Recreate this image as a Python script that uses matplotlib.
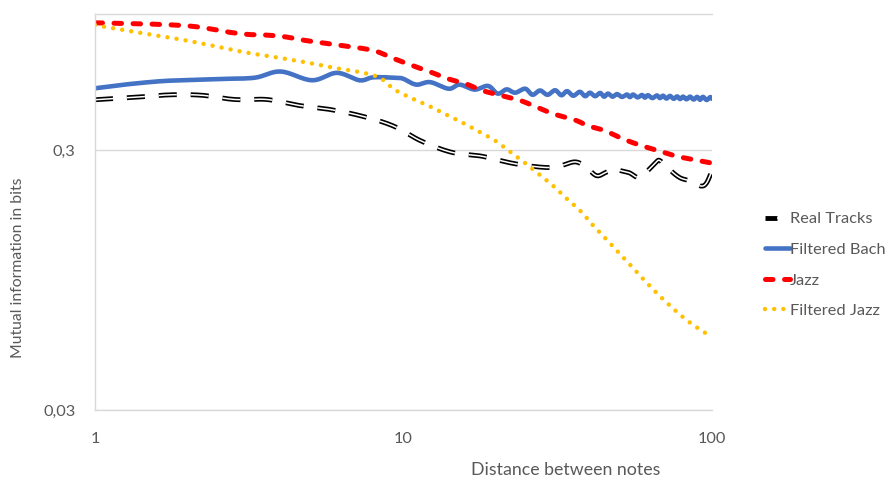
import numpy as np
import matplotlib
matplotlib.use("Agg")
import matplotlib.pyplot as plt
from matplotlib.legend_handler import HandlerTuple

plt.rcParams['font.family'] = ['Lato', 'DejaVu Sans']
plt.rcParams['lines.scale_dashes'] = False

# values (distance between notes -> mutual information in bits)
real_x = [1, 1.37, 1.76, 2.22, 2.84, 3.61, 4.58, 5.8, 7.32, 9.22, 11.4, 14.3, 17.9, 22.8, 28.7,
          32, 36, 39, 42.2, 45, 48, 50.4, 54, 57, 59.5, 63, 66, 67.8, 72, 78.5, 85, 92, 96, 100]
real_y = [0.468, 0.479, 0.489, 0.487, 0.469, 0.469, 0.445, 0.429, 0.405, 0.372, 0.325, 0.294,
          0.284, 0.266, 0.257, 0.260, 0.270, 0.258, 0.239, 0.245, 0.254, 0.250, 0.245, 0.236,
          0.239, 0.255, 0.270, 0.273, 0.255, 0.235, 0.228, 0.218, 0.224, 0.250]

bach_x = [1, 1.28, 1.65, 2, 2.6, 3.3, 4, 5.05, 6.08, 7.2, 8, 9.5, 10, 11, 12.2, 14, 15.2, 17,
          18.8, 20.2, 21.6, 23, 24.8, 26.2, 27.7, 29.3, 31, 32.5, 33.9, 35.5, 37.3, 38.8, 40.2,
          41.8, 43.4, 44.7, 46, 47.6, 49.2, 51.1, 53, 54.2, 55.5, 57.4, 59.3, 60.6, 62, 64.1,
          66.3, 67.8, 69.4, 71.2, 73.1, 75.1, 77.1, 78.8, 80.6, 82.7, 84.9, 87.2, 89.5, 91.5,
          93.5, 96.1, 98.7, 100]
bach_y = [0.518, 0.537, 0.552, 0.557, 0.563, 0.569, 0.601, 0.556, 0.594, 0.556, 0.571, 0.568,
          0.563, 0.535, 0.547, 0.516, 0.535, 0.512, 0.529, 0.494, 0.513, 0.498, 0.516, 0.489,
          0.508, 0.489, 0.509, 0.487, 0.505, 0.485, 0.502, 0.483, 0.498, 0.483, 0.497, 0.481,
          0.494, 0.481, 0.492, 0.480, 0.490, 0.479, 0.490, 0.478, 0.488, 0.477, 0.487, 0.475,
          0.486, 0.475, 0.485, 0.473, 0.484, 0.472, 0.482, 0.471, 0.481, 0.470, 0.481, 0.469,
          0.480, 0.468, 0.480, 0.467, 0.479, 0.472]

jazz_x = [1, 1.5, 2, 2.39, 2.74, 3.15, 3.58, 4.13, 4.75, 5.44, 6.27, 7.17, 8.15, 9.3, 10.7,
          12.2, 13.9, 15.9, 18, 20.7, 23.9, 26.9, 30.6, 36, 39.5, 44.9, 51.4, 58.9, 67.2, 76.6,
          87.7, 100]
jazz_y = [0.925, 0.915, 0.900, 0.875, 0.850, 0.834, 0.83, 0.817, 0.793, 0.775, 0.758, 0.741,
          0.719, 0.674, 0.633, 0.599, 0.564, 0.539, 0.508, 0.486, 0.465, 0.439, 0.413, 0.391,
          0.372, 0.356, 0.331, 0.312, 0.298, 0.284, 0.275, 0.267]

fjazz_x = [1, 1.42, 2, 3.01, 3.97, 4.89, 5.99, 7.37, 8.41, 9.33, 10.6, 12, 13.6, 15.4, 17.5,
           19.8, 22.1, 24.6, 27.5, 30.6, 33.8, 37.6, 41.1, 45.2, 49.8, 54.9, 60.3, 66.5, 73.5,
           81.6, 91.5, 100]
fjazz_y = [0.906, 0.844, 0.789, 0.715, 0.678, 0.650, 0.620, 0.595, 0.567, 0.513, 0.475, 0.445,
           0.413, 0.384, 0.354, 0.326, 0.296, 0.269, 0.242, 0.218, 0.195, 0.174, 0.154, 0.137,
           0.121, 0.107, 0.0947, 0.0841, 0.0751, 0.0674, 0.0611, 0.0574]

labels = ['Real Tracks', 'Filtered Bach', 'Jazz', 'Filtered Jazz']
grey = '#595959'


def smooth(xs, ys, n=16):
    # bezier smoothing through the points in log-log space (like excel smoothed lines)
    p = np.column_stack([np.log10(xs), np.log10(ys)])
    p = np.vstack([p[0], p, p[-1]])
    t = np.linspace(0, 1, n, endpoint=False)[:, None]
    out = []
    for i in range(1, len(p) - 2):
        p0, p1, p2, p3 = p[i - 1], p[i], p[i + 1], p[i + 2]
        c1 = p1 + (p2 - p0) / 6
        c2 = p2 - (p3 - p1) / 6
        out.append((1 - t) ** 3 * p1 + 3 * (1 - t) ** 2 * t * c1 + 3 * (1 - t) * t ** 2 * c2 + t ** 3 * p2)
    out.append(p[-2][None, :])
    out = np.vstack(out)
    return 10 ** out[:, 0], 10 ** out[:, 1]


fig = plt.figure(figsize=(8.95, 4.82), dpi=100)
ax = fig.add_axes([95 / 895, 72 / 482, 617 / 895, 396 / 482])

sx, sy = smooth(real_x, real_y)
real_out, = ax.plot(sx, sy, color='black', lw=3.5, dashes=(13, 10), dash_capstyle='butt')
real_in, = ax.plot(sx, sy, color='white', lw=1.1, dashes=(13, 10), dash_capstyle='butt')

sx, sy = smooth(bach_x, bach_y, 8)
bach_line, = ax.plot(sx, sy, color='#4472C4', lw=3.3, solid_capstyle='round')

sx, sy = smooth(jazz_x, jazz_y)
jazz_line, = ax.plot(sx, sy, color='#FF0000', lw=3.6, dashes=(5.4, 8.3), dash_capstyle='round')

sx, sy = smooth(fjazz_x, fjazz_y)
fjazz_line, = ax.plot(sx, sy, color='#FFC000', lw=3.2, dashes=(0.01, 6.6), dash_capstyle='round')

ax.set_xscale('log')
ax.set_yscale('log')
ax.set_xlim(1, 100)
ax.set_ylim(0.03, 1.0)
ax.set_xticks([1, 10, 100])
ax.set_xticklabels(['1', '10', '100'])
ax.set_yticks([0.03, 0.3])
ax.set_yticklabels(['0,03', '0,3'])
ax.minorticks_off()
ax.tick_params(length=0, labelsize=11.8, colors=grey)
ax.tick_params(axis='x', pad=16)
ax.tick_params(axis='y', pad=14)
ax.grid(axis='y', color='#D9D9D9', lw=1)
for s in ['top', 'bottom', 'left']:
    ax.spines[s].set_color('#D9D9D9')
    ax.spines[s].set_linewidth(1)
ax.spines['right'].set_visible(False)

fig.text(18 / 895, 1 - 268 / 482, 'Mutual information in bits', rotation=90,
         ha='center', va='center', fontsize=11.3, color=grey)
fig.text(566 / 895, 1 - 470 / 482, 'Distance between notes',
         ha='center', va='center', fontsize=12.8, color=grey)

fig.legend([(real_out, real_in), bach_line, jazz_line, fjazz_line], labels,
           handler_map={tuple: HandlerTuple(ndivide=None)},
           loc='center left', bbox_to_anchor=(765 / 895, 1 - 265 / 482),
           frameon=False, fontsize=11.8, labelcolor=grey, handlelength=1.5,
           handletextpad=0.02, labelspacing=0.98, borderpad=0, borderaxespad=0)

plt.savefig('out.png', dpi=100)
